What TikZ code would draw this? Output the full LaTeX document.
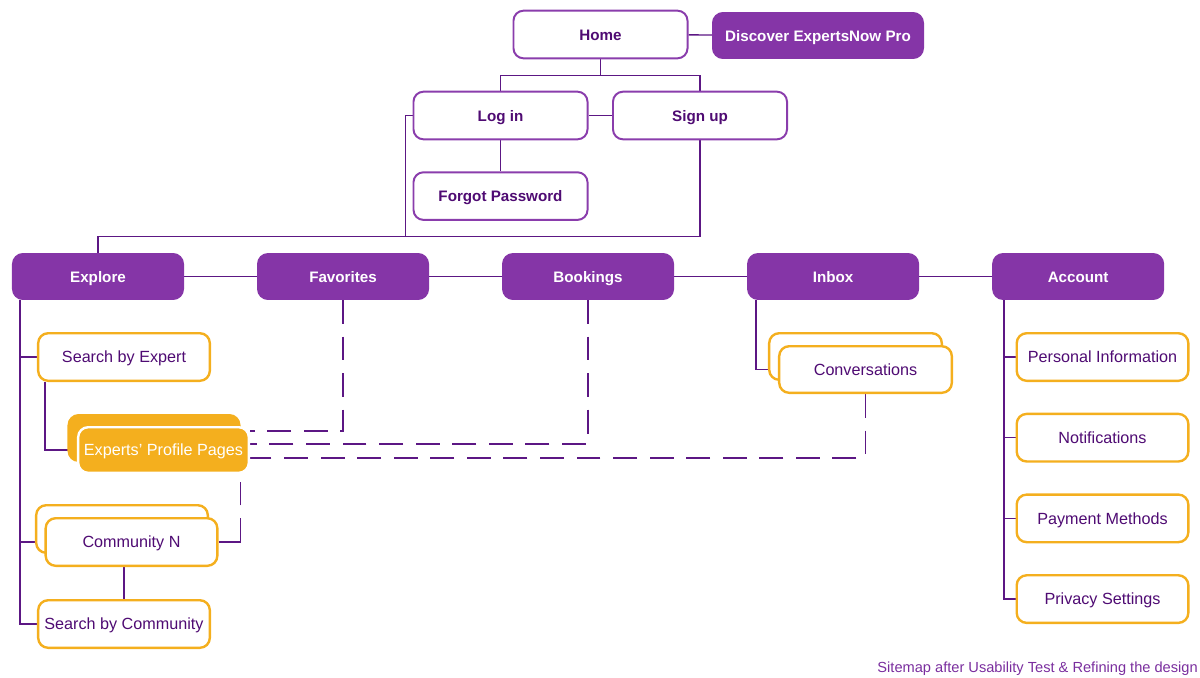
\documentclass[tikz,border=0pt]{standalone}
\usepackage{fontspec}
\setmainfont{Liberation Sans}
\usetikzlibrary{positioning,backgrounds}
\definecolor{sitepurple}{HTML}{8535A7}
\definecolor{siteborder}{HTML}{8A3DAC}
\definecolor{sitetext}{HTML}{4F0B73}
\definecolor{siteline}{HTML}{5C1784}
\definecolor{siteorange}{HTML}{F4AF1E}
\definecolor{sitecaption}{HTML}{7A2E9E}
\tikzset{
  pagebox/.style = {shape=rectangle, rounded corners=0.25cm,
                    draw=siteborder, line width=1.4pt, fill=white,
                    inner sep=0pt, minimum width=4.35cm, minimum height=1.19cm,
                    text height=0.8em, text depth=0em,
                    text=sitetext, font=\fontsize{10.8}{12}\selectfont\bfseries},
  mainbox/.style = {pagebox, draw=sitepurple, fill=sitepurple, text=white,
                    minimum width=4.25cm, minimum height=1.125cm},
  subbox/.style  = {pagebox, draw=siteorange, line width=1.7pt,
                    minimum width=4.29cm, minimum height=1.19cm,
                    font=\fontsize{11.5}{13}\selectfont},
  cardbox/.style = {subbox, fill=siteorange, draw=white, text=white,
                    minimum width=4.265cm, minimum height=1.14cm},
  link/.style    = {draw=siteline, line width=1pt},
  dashlink/.style = {link, dash pattern=on 17pt off 9pt}
}
\begin{document}
\begin{tikzpicture}[x=0.025cm, y=-0.025cm]
\useasboundingbox (0,0) rectangle (1200,677);
% top pages
\node[pagebox] (home) at (600.5,34.5) {Home};
\node[mainbox, minimum width=5.25cm] (discover) at (818,35.5) {Discover ExpertsNow Pro};
\node[pagebox] (login) at (500.5,115.5) {Log in};
\node[pagebox] (signup) at (700,115.5) {Sign up};
\node[pagebox, below=0.775cm of login] (forgot) {Forgot Password};
% main navigation
\node[mainbox] (explore) at (98,276.5) {Explore};
\node[mainbox, right=1.825cm of explore] (favorites) {Favorites};
\node[mainbox, right=1.825cm of favorites] (bookings) {Bookings};
\node[mainbox, right=1.825cm of bookings] (inbox) {Inbox};
\node[mainbox, right=1.825cm of inbox] (account) {Account};
% explore
\node[subbox] (sbe) at (124,357) {Search by Expert};
\node[cardbox, draw=siteorange] (expback) at (154,438) {};
\node[cardbox] (exp) at (163.5,450) {Experts' Profile Pages};
\node[subbox] (commback) at (122,529) {};
\node[subbox] (comm) at (131.5,542) {Community N};
\node[subbox] (sbc) at (124,624) {Search by Community};
% inbox
\node[subbox, minimum width=4.315cm, minimum height=1.165cm] (convback) at (855.5,356.5) {};
\node[subbox, minimum width=4.315cm, minimum height=1.165cm] (conv) at (865.5,369.5) {Conversations};
% account
\node[subbox] (info) at (1102.5,357) {Personal Information};
\node[subbox, below=0.767cm of info] (notif) {Notifications};
\node[subbox, below=0.767cm of notif] (payment) {Payment Methods};
\node[subbox, below=0.767cm of payment] (privacy) {Privacy Settings};
\node[anchor=base east, inner sep=0pt, text=sitecaption, font=\fontsize{10.4}{12}\selectfont] (caption)
  at (1198,672) {Sitemap after Usability Test \& Refining the design};

\begin{pgfonlayer}{background}
\draw[link] (home) -- (discover);
\draw[link] (home.south) -- ++(0,16) coordinate (fork) -| (login.north);
\draw[link] (fork) -| (signup.north);
\draw[link] (login) -- (signup);
\draw[link] (login) -- (forgot);
\draw[link] (signup.south) -- ++(0,96) coordinate (join) -| (explore.north);
\draw[link] (login.west) -- ++(-7,0) |- (join);
\foreach \a/\b in {explore/favorites, favorites/bookings, bookings/inbox, inbox/account}
  \draw[link] (\a) -- (\b);
% explore branch
\foreach \n in {sbe, comm, sbc}
  \draw[link] ([xshift=0.2cm]explore.south west) |- (\n.west);
\draw[link] ([xshift=0.2cm]sbe.south west) |- (exp.west);
\draw[link] (sbc.north) -- (sbc.north |- comm.south);
\draw[link] (comm.east) -- ++(22,0) coordinate (commhook);
\draw[dashlink] (commhook) -- (commhook |- exp.south);
% links into the profile pages
\draw[dashlink] (favorites.south) |- ([yshift=0.475cm]exp.east);
\draw[dashlink] (bookings.south) |- ([yshift=0.15cm]exp.east);
\draw[dashlink] (conv.south) |- ([yshift=-0.2cm]exp.east);
% inbox and account
\draw[link] ([xshift=0.225cm]inbox.south west) |- (conv.west);
\foreach \n in {info, notif, payment, privacy}
  \draw[link] ([xshift=0.3cm]account.south west) |- (\n.west);
\end{pgfonlayer}
\end{tikzpicture}
\end{document}
